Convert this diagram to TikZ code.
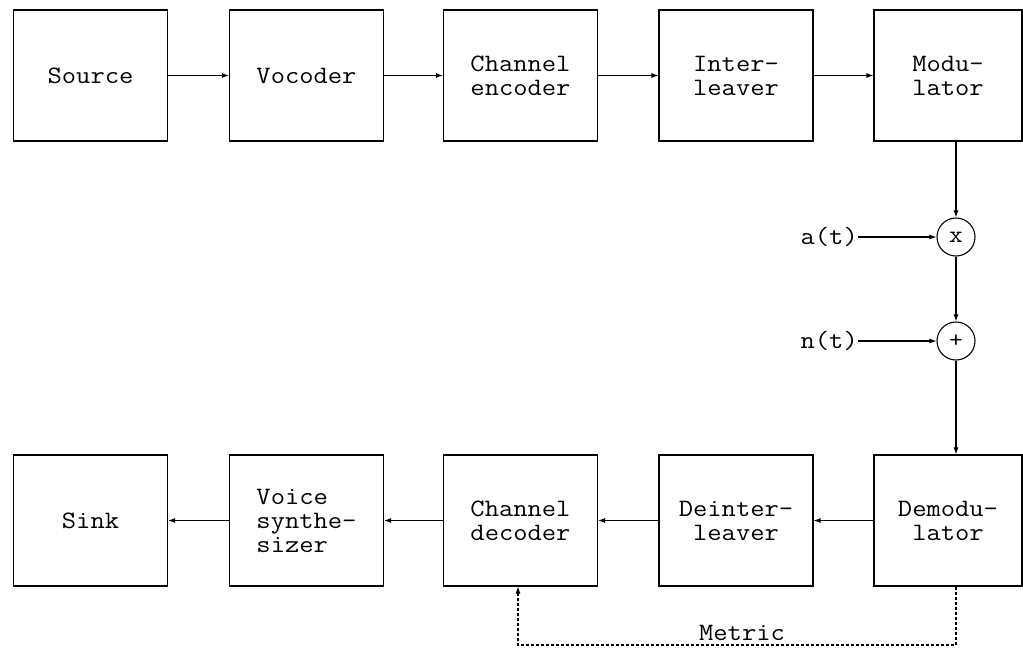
\documentclass[tikz,border=0pt]{standalone}
\usepackage{fontspec}
\setmonofont{Latin Modern Mono}[FakeStretch=1.11]
\usetikzlibrary{arrows.meta}
\begin{document}
\begin{tikzpicture}[x=1pt,y=-1pt,
  txt/.style={font=\ttfamily\fontsize{25}{24}\selectfont},
  blk/.style={draw,line width=1.1pt,minimum width=154pt,minimum height=131pt,inner sep=0pt,
    txt,align=center},
  sumc/.style={draw,line width=1.1pt,circle,minimum size=38pt,inner sep=0pt,font=\ttfamily\fontsize{24}{24}\selectfont},
  lbl/.style={txt,inner sep=0pt},
  conn/.style={line width=1.1pt,-{Latex[length=7pt,width=5pt]}},
  dconn/.style={line width=1.1pt,dash pattern=on 3pt off 2pt,-{Latex[length=7pt,width=5pt]}}]
\useasboundingbox (0,0) rectangle (1023,648);
\node[blk] (src) at (90.5,75.5) {Source};
\node[blk] (voc) at (306.5,75.5) {Vocoder};
\node[blk] (enc) at (520.5,75.5) {Channel\\encoder};
\node[blk] (int) at (736,75.5) {Inter-\\leaver};
\node[blk,minimum width=148pt] (mod) at (948,75.5) {Modu-\\lator};
\node[blk] (sink) at (90.5,520.5) {Sink};
\node[blk,align=left] (syn) at (306.5,520.5) {Voice\\synthe-\\sizer};
\node[blk] (dec) at (520.5,520.5) {Channel\\decoder};
\node[blk] (dint) at (736,520.5) {Deinter-\\leaver};
\node[blk,minimum width=148pt] (dem) at (948,520.5) {Demodu-\\lator};
\node[sumc] (mul) at (956,237) {x};
\node[sumc] (add) at (956,341) {+};
\node[lbl,anchor=east] (at) at (858,237) {a(t)};
\node[lbl,anchor=east] (nt) at (858,341) {n(t)};
\node[lbl] (met) at (742,633) {Metric};
\coordinate (mb) at (956,645);
\coordinate (db) at (518,645);
\draw[conn] (src) -- (voc);
\draw[conn] (voc) -- (enc);
\draw[conn] (enc) -- (int);
\draw[conn] (int) -- (mod);
\draw[conn] (mod.south -| mul) -- (mul);
\draw[conn] (mul) -- (add);
\draw[conn] (add) -- (dem.north -| add);
\draw[conn] (at) -- (mul);
\draw[conn] (nt) -- (add);
\draw[conn] (dem) -- (dint);
\draw[conn] (dint) -- (dec);
\draw[conn] (dec) -- (syn);
\draw[conn] (syn) -- (sink);
\draw[dconn] (dem.south -| mb) -- (mb) -- (db) -- (dec.south -| db);
\end{tikzpicture}
\end{document}
